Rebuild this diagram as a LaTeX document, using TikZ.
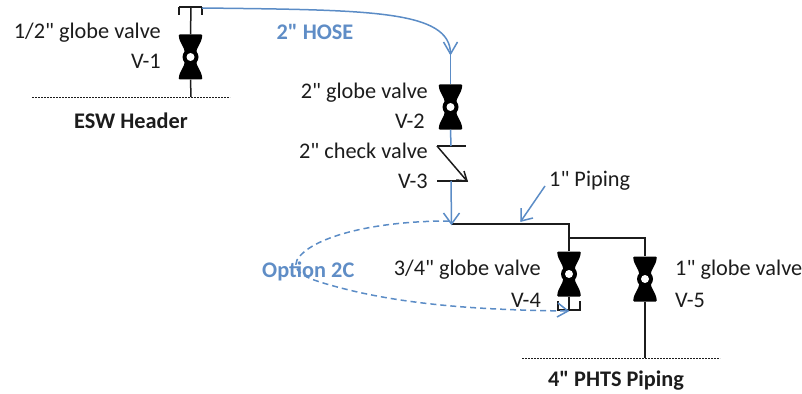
\documentclass[tikz,border=0pt]{standalone}
\usepackage{fontspec}
\newfontfamily\calfont{Carlito}
\definecolor{pipeblue}{HTML}{5B8CC6}
\definecolor{labelblue}{HTML}{5F8DC6}
\definecolor{ink}{HTML}{1C1C1C}
\tikzset{
  x=1pt,y=-1pt,
  pipe/.style={draw=ink,line width=1.5pt},
  hose/.style={draw=pipeblue,line width=1.5pt},
  dashhose/.style={draw=pipeblue,line width=1.5pt,dash pattern=on 6pt off 4pt},
  header/.style={draw=ink,line width=0.9pt,dash pattern=on 2pt off 1pt},
  lbl/.style={inner sep=0pt,font=\calfont\fontsize{22.3}{24}\selectfont,text=ink},
  boldlbl/.style={lbl,font=\calfont\fontsize{22.3}{24}\selectfont\bfseries},
  bluelbl/.style={boldlbl,text=labelblue},
  globevalve/.style={inner sep=0pt,minimum width=25pt,minimum height=45pt,
    path picture={
      \fill[black,rounded corners=1.2pt] (-12,-22.5) -- (12,-22.5) -- (11,-17) -- (6,-7) -- (6,7) -- (11,17) -- (12,22.5) -- (-12,22.5) -- (-11,17) -- (-6,7) -- (-6,-7) -- (-11,-17) -- cycle;
      \fill[black] (0,0) circle (8);
      \fill[white] (0,0) circle (4);
    }},
}
\begin{document}
\begin{tikzpicture}
\useasboundingbox (0,0) rectangle (802,393);
% valves
\node[globevalve] (v1) at (190.5,57) {};
\node[globevalve] (v2) at (450.5,107) {};
\node[globevalve] (v4) at (569,274) {};
\node[globevalve] (v5) at (645,279) {};
% free ends
\coordinate (capL) at (179,15);
\coordinate (capLT) at (179,7);
\coordinate (capT) at (191,7);
\coordinate (capRT) at (202,7);
\coordinate (capR) at (202,15);
\coordinate (h1) at (191,97);
\coordinate (h1L) at (32,97);
\coordinate (h1R) at (230,97);
\coordinate (hoseS) at (202,8);
\coordinate (hoseA) at (450.5,54);
\coordinate (chkTopL) at (437,146);
\coordinate (chkTopR) at (466,146);
\coordinate (chkBotL) at (437,181);
\coordinate (chkBotR) at (467,181);
\coordinate (hoseV2b) at (451,146);
\coordinate (hoseChk) at (451,181);
\coordinate (tee) at (451.5,224);
\coordinate (corner) at (569,224);
\coordinate (branch) at (569,238);
\coordinate (branchR) at (645,238);
\coordinate (h2) at (645,358);
\coordinate (h2L) at (522,358);
\coordinate (h2R) at (720,358);
\coordinate (c4LT) at (558,301);
\coordinate (c4L) at (558,310);
\coordinate (c4M) at (569,310);
\coordinate (c4R) at (580,310);
\coordinate (c4RT) at (580,301);
\coordinate (ptA) at (545,186);
\coordinate (ptB) at (521,221);
\coordinate (dS) at (449,221);
\coordinate (dE) at (568,311);
% header lines
\draw[header] (h1L) -- (h1R);
\draw[header] (h2L) -- (h2R);
% black piping
\draw[pipe] (capLT) -- (capRT);
\draw[pipe] (capL) -- (capLT);
\draw[pipe] (capR) -- (capRT);
\draw[pipe] (capT) -- (v1.north);
\draw[pipe] (v1.south) -- (h1);
\draw[pipe] (tee) -- (corner) -- (v4.north);
\draw[pipe] (branch) -- (branchR) -- (v5.north);
\draw[pipe] (v5.south) -- (h2);
\draw[pipe] (v4.south) -- (c4M);
\draw[pipe] (c4LT) -- (c4L) -- (c4R) -- (c4RT);
% check valve
\draw[pipe] (chkTopL) -- (chkTopR);
\draw[pipe] (chkBotL) -- (chkBotR);
\draw[pipe] (chkTopL) -- (chkBotR);
\draw[pipe] (chkBotR) ++(-3,-10) -- (chkBotR) -- ++(-11,-1);
% hose
\draw[hose] (hoseS) .. controls (370,10) and (450.5,10) .. (hoseA);
\draw[hose] (hoseA) ++(-7,-12) -- (hoseA) -- ++(7,-12);
\draw[hose] (hoseA) -- (v2.north);
\draw[hose] (v2.south) -- (hoseV2b);
\draw[hose] (hoseChk) -- (tee);
\draw[hose] (tee) ++(-8,-11) -- (tee) -- ++(8,-11);
\draw[hose] (ptA) -- (ptB);
\draw[hose] (ptB) ++(0,-13) -- (ptB) -- ++(12,-3);
% option path
\draw[dashhose] (dS) .. controls (370,221) and (310,238) .. (297,260) .. controls (292,272) and (305,278) .. (330,285) .. controls (400,305) and (480,310) .. (dE);
\draw[hose] (dE) ++(-10,-8) -- (dE) -- ++(-11,6);
% labels
\node[lbl,anchor=east] (t1) at (161,32.5) {1/2" globe valve};
\node[lbl,anchor=east] (t2) at (161,61.5) {V-1};
\node[boldlbl] (t3) at (131,121) {ESW Header};
\node[bluelbl] (t4) at (315,32) {2" HOSE};
\node[lbl,anchor=east] (t5) at (428,92.5) {2" globe valve};
\node[lbl,anchor=east] (t6) at (425,121) {V-2};
\node[lbl,anchor=east] (t7) at (428,151) {2" check valve};
\node[lbl,anchor=east] (t8) at (428,181) {V-3};
\node[lbl,anchor=west] (t9) at (549,181) {1" Piping};
\node[bluelbl,anchor=west] (t10) at (262,271) {Option 2C};
\node[lbl,anchor=east] (t11) at (541,270) {3/4" globe valve};
\node[lbl,anchor=east] (t12) at (541,300) {V-4};
\node[lbl,anchor=west] (t13) at (675,270) {1" globe valve};
\node[lbl,anchor=west] (t14) at (675,300) {V-5};
\node[boldlbl] (t15) at (616,381) {4" PHTS Piping};
\end{tikzpicture}
\end{document}
